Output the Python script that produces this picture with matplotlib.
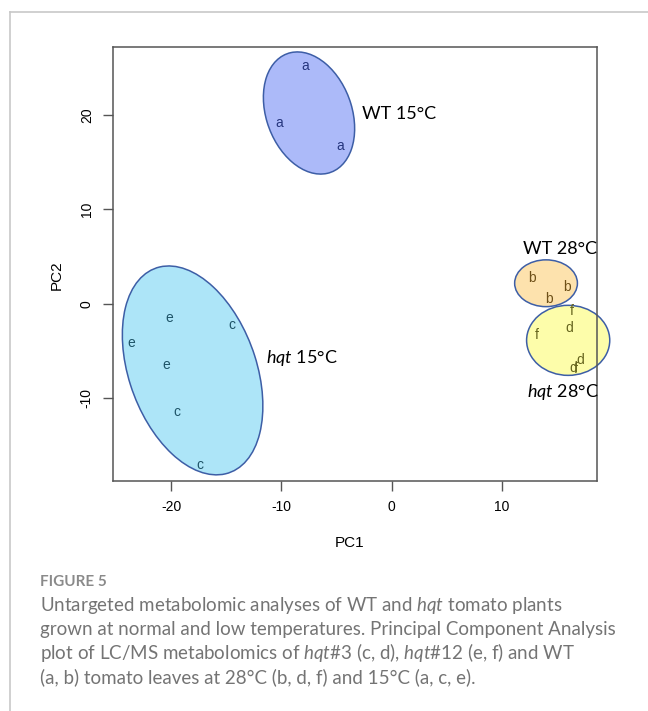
import matplotlib
matplotlib.use("Agg")
import matplotlib.pyplot as plt
from matplotlib.patches import Ellipse
from matplotlib.lines import Line2D

plt.rcParams['mathtext.fontset'] = 'custom'
plt.rcParams['mathtext.rm'] = 'Lato'
plt.rcParams['mathtext.it'] = 'Lato:italic'

# sample scores (PC1, PC2)
a_x = [-7.8, -10.2, -4.7]
a_y = [25.2, 19.1, 16.7]
b_x = [12.7, 15.9, 14.3]
b_y = [2.7, 1.8, 0.5]
c_x = [-14.5, -19.5, -17.4]
c_y = [-2.3, -11.4, -17.1]
d_x = [16.1, 17.1, 16.5]
d_y = [-2.6, -6.0, -6.8]
e_x = [-20.2, -23.6, -20.5]
e_y = [-1.5, -4.2, -6.5]
f_x = [16.4, 13.2, 16.7]
f_y = [-0.8, -3.3, -6.9]

# group ellipses: centre x, centre y, width, height, angle
groups = ['WT 15°C', 'hqt 15°C', 'WT 28°C', 'hqt 28°C']
ell_cx = [-7.5, -18.07, 14.02, 16.03]
ell_cy = [20.18, -7.05, 2.17, -3.87]
ell_w = [13.19, 22.68, 5.70, 7.55]
ell_h = [7.85, 11.69, 4.95, 7.41]
ell_ang = [-75.5, -74.75, 0, 0]
ell_fill = ['#acbaf9', '#ade5f8', '#fde2ad', '#fdfdaa']

fig = plt.figure(figsize=(6.48, 7.11), dpi=100)
W, H = 648, 711

def fx(px):
    return px / W

def fy(py):
    return 1 - py / H

# light frame around the figure
fig.add_artist(Line2D([fx(10), 1], [fy(11.5), fy(11.5)], color='#c8c8c8', lw=1.2))
fig.add_artist(Line2D([fx(10), fx(10)], [fy(11.5), 0], color='#c8c8c8', lw=1.2))

ax = fig.add_axes([fx(113.3), fy(481), fx(596.7) - fx(113.3), fy(47.3) - fy(481)])
ax.set_xlim(-25.27, 18.62)
ax.set_ylim(-18.75, 27.13)

for cx, cy, w, h, ang, col in zip(ell_cx, ell_cy, ell_w, ell_h, ell_ang, ell_fill):
    ax.add_patch(Ellipse((cx, cy), w, h, angle=ang, facecolor=col,
                         edgecolor='#3d5ea6', lw=1.1, clip_on=False, zorder=1))

letters = [('a', a_x, a_y, '#26367e'), ('b', b_x, b_y, '#6e5018'),
           ('c', c_x, c_y, '#1e5468'), ('d', d_x, d_y, '#66651e'),
           ('e', e_x, e_y, '#1e5468'), ('f', f_x, f_y, '#66651e')]
for lab, xs, ys, col in letters:
    for x, y in zip(xs, ys):
        ax.text(x, y, lab, color=col, fontsize=10, family='Liberation Sans',
                ha='center', va='center', zorder=3, clip_on=False)

lab_kw = dict(fontsize=13, family='Lato', va='center', ha='left', color='black')
ax.text(-2.71, 20.05, 'WT 15°C', **lab_kw)
ax.text(-11.43, -5.7, r'$\mathit{hqt}$ 15°C', **lab_kw)
ax.text(11.9, 5.77, 'WT 28°C', **lab_kw)
ax.text(12.27, -9.36, r'$\mathit{hqt}$ 28°C', clip_on=False, **lab_kw)

ax.set_xticks([-20, -10, 0, 10])
ax.set_yticks([-10, 0, 10, 20])
ax.set_yticklabels(['-10', '0', '10', '20'], rotation=90, va='center')
ax.set_xticklabels(['-20', '-10', '0', '10'])
ax.tick_params(length=7, width=1, color='#555555', labelsize=10, pad=7)
for lbl in ax.get_xticklabels() + ax.get_yticklabels():
    lbl.set_family('Liberation Sans')
for sp in ax.spines.values():
    sp.set_color('#555555')
    sp.set_linewidth(1.1)

fig.text(fx(350), fy(543), 'PC1', ha='center', va='center', fontsize=11,
         family='Liberation Sans')
fig.text(fx(57), fy(275), 'PC2', ha='center', va='center', fontsize=11,
         family='Liberation Sans', rotation=90)

# caption
cap_col = '#747474'
fig.text(fx(40), fy(581.7), 'FIGURE 5', ha='left', va='center', fontsize=11,
         family='Lato', fontweight='bold', color='#8a8a8a')
caption = [
    r'Untargeted metabolomic analyses of WT and $\mathit{hqt}$ tomato plants',
    'grown at normal and low temperatures. Principal Component Analysis',
    r'plot of LC/MS metabolomics of $\mathit{hqt\#3}$ (c, d), $\mathit{hqt\#12}$ (e, f) and WT',
    '(a, b) tomato leaves at 28°C (b, d, f) and 15°C (a, c, e).',
]
for i, line in enumerate(caption):
    fig.text(fx(40), fy(605 + 24 * i), line, ha='left', va='center',
             fontsize=13.5, family='Lato', color=cap_col)

fig.savefig('out.png', dpi=100, facecolor='white')
